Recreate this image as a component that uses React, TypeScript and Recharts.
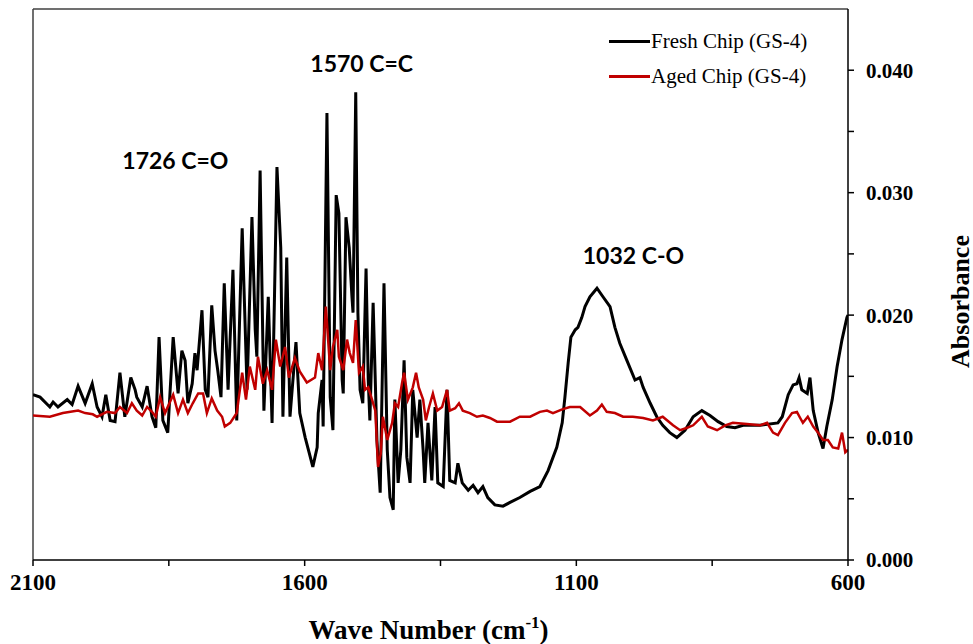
import { LineChart, Line, XAxis, YAxis, ReferenceLine, ReferenceDot } from "recharts";

// Fresh chip spectrum (wavenumber cm-1 -> absorbance)
const freshWavenumber = [
  2100, 2087, 2069, 2063, 2054, 2037, 2028, 2017, 2004, 1991, 1982, 1973, 1966, 1958, 1949, 1940, 1931, 1920, 1912, 1909,
  1899, 1890, 1881, 1874, 1868, 1861, 1852, 1842, 1833, 1826, 1820, 1815, 1807, 1802, 1798, 1789, 1783, 1778, 1771, 1765,
  1760, 1754, 1748, 1741, 1732, 1725, 1715, 1706, 1697, 1691, 1688, 1682, 1675, 1667, 1660, 1651, 1644, 1640, 1633, 1627,
  1616, 1609, 1599, 1592, 1585, 1577, 1575, 1568, 1566, 1559, 1553, 1548, 1542, 1537, 1531, 1529, 1524, 1518, 1513, 1511,
  1506, 1502, 1498, 1493, 1487, 1483, 1480, 1474, 1467, 1461, 1454, 1448, 1443, 1437, 1434, 1428, 1423, 1417, 1412, 1406,
  1401, 1393, 1388, 1382, 1379, 1373, 1366, 1360, 1355, 1345, 1338, 1333, 1323, 1318, 1310, 1299, 1290, 1281, 1272, 1263,
  1250, 1235, 1222, 1204, 1185, 1167, 1152, 1136, 1126, 1121, 1115, 1110, 1102, 1097, 1090, 1084, 1075, 1062, 1051, 1038,
  1029, 1020, 1007, 992, 983, 977, 964, 952, 941, 928, 915, 900, 885, 869, 854, 839, 823, 808, 793, 762,
  729, 721, 710, 701, 694, 690, 685, 675, 670, 664, 655, 646, 639, 629, 620, 611, 602, 600,
];
const freshAbsorbance = [
  0.0135, 0.0133, 0.0125, 0.0129, 0.0125, 0.0131, 0.0127, 0.0142, 0.0128, 0.0144, 0.0125, 0.0117, 0.0135, 0.0114, 0.0113, 0.0153, 0.0117, 0.0149, 0.0139, 0.0133,
  0.0125, 0.0142, 0.0117, 0.0108, 0.0182, 0.0114, 0.0104, 0.0182, 0.0136, 0.0171, 0.0163, 0.0128, 0.0144, 0.0169, 0.0155, 0.0204, 0.0139, 0.0133, 0.0208, 0.0171,
  0.0155, 0.0133, 0.0226, 0.0139, 0.0237, 0.0114, 0.0271, 0.0139, 0.0280, 0.0188, 0.0166, 0.0318, 0.0122, 0.0215, 0.0112, 0.0321, 0.0255, 0.0117, 0.0247, 0.0117,
  0.0178, 0.0120, 0.0100, 0.0088, 0.0076, 0.0092, 0.0120, 0.0147, 0.0109, 0.0365, 0.0133, 0.0106, 0.0298, 0.0283, 0.0147, 0.0136, 0.0280, 0.0255, 0.0215, 0.0202,
  0.0382, 0.0202, 0.0139, 0.0128, 0.0238, 0.0147, 0.0114, 0.0210, 0.0098, 0.0055, 0.0226, 0.0090, 0.0051, 0.0041, 0.0131, 0.0063, 0.0090, 0.0163, 0.0084, 0.0063,
  0.0139, 0.0100, 0.0131, 0.0090, 0.0063, 0.0112, 0.0065, 0.0125, 0.0063, 0.0060, 0.0139, 0.0065, 0.0063, 0.0079, 0.0063, 0.0057, 0.0061, 0.0055, 0.0060, 0.0051,
  0.0045, 0.0044, 0.0047, 0.0051, 0.0056, 0.0060, 0.0073, 0.0092, 0.0112, 0.0133, 0.0161, 0.0182, 0.0188, 0.0190, 0.0198, 0.0207, 0.0215, 0.0222, 0.0215, 0.0207,
  0.0190, 0.0177, 0.0163, 0.0147, 0.0149, 0.0141, 0.0128, 0.0117, 0.0110, 0.0104, 0.0100, 0.0106, 0.0117, 0.0122, 0.0118, 0.0113, 0.0109, 0.0108, 0.0110, 0.0110,
  0.0112, 0.0117, 0.0135, 0.0143, 0.0144, 0.0149, 0.0139, 0.0136, 0.0149, 0.0122, 0.0104, 0.0091, 0.0109, 0.0131, 0.0158, 0.0180, 0.0198, 0.0200,
];

// Aged chip spectrum
const agedWavenumber = [
  2100, 2069, 2045, 2017, 2004, 1990, 1982, 1964, 1949, 1940, 1927, 1918, 1909, 1899, 1890, 1881, 1874, 1866, 1857, 1842,
  1833, 1824, 1815, 1806, 1796, 1787, 1780, 1771, 1761, 1752, 1747, 1737, 1725, 1715, 1708, 1701, 1691, 1686, 1677, 1669,
  1660, 1653, 1645, 1636, 1629, 1618, 1609, 1596, 1581, 1575, 1568, 1561, 1553, 1548, 1540, 1537, 1529, 1522, 1517, 1511,
  1506, 1500, 1493, 1489, 1483, 1476, 1470, 1465, 1460, 1456, 1448, 1439, 1434, 1428, 1421, 1417, 1410, 1401, 1395, 1390,
  1382, 1377, 1371, 1364, 1356, 1347, 1338, 1333, 1323, 1316, 1309, 1296, 1283, 1272, 1259, 1246, 1222, 1204, 1185, 1167,
  1154, 1143, 1126, 1112, 1093, 1075, 1062, 1053, 1044, 1029, 1014, 996, 977, 959, 941, 922, 909, 896, 885, 869,
  858, 841, 826, 812, 786, 762, 749, 738, 729, 716, 703, 694, 688, 683, 674, 664, 655, 646, 637, 628,
  618, 611, 605, 600,
];
const agedAbsorbance = [
  0.0118, 0.0117, 0.0120, 0.0122, 0.0120, 0.0119, 0.0117, 0.0121, 0.0120, 0.0125, 0.0120, 0.0128, 0.0122, 0.0118, 0.0125, 0.0121, 0.0117, 0.0133, 0.0120, 0.0135,
  0.0120, 0.0131, 0.0120, 0.0128, 0.0136, 0.0136, 0.0120, 0.0132, 0.0122, 0.0117, 0.0109, 0.0112, 0.0120, 0.0153, 0.0131, 0.0158, 0.0139, 0.0166, 0.0144, 0.0155,
  0.0139, 0.0180, 0.0158, 0.0174, 0.0149, 0.0165, 0.0154, 0.0145, 0.0149, 0.0169, 0.0155, 0.0207, 0.0155, 0.0174, 0.0188, 0.0166, 0.0155, 0.0180, 0.0169, 0.0161,
  0.0196, 0.0153, 0.0158, 0.0139, 0.0141, 0.0131, 0.0122, 0.0076, 0.0087, 0.0117, 0.0098, 0.0112, 0.0128, 0.0125, 0.0144, 0.0153, 0.0131, 0.0141, 0.0153, 0.0141,
  0.0131, 0.0114, 0.0125, 0.0136, 0.0122, 0.0125, 0.0139, 0.0122, 0.0124, 0.0128, 0.0122, 0.0120, 0.0117, 0.0118, 0.0116, 0.0113, 0.0113, 0.0117, 0.0117, 0.0121,
  0.0122, 0.0120, 0.0123, 0.0125, 0.0125, 0.0118, 0.0122, 0.0127, 0.0121, 0.0120, 0.0117, 0.0117, 0.0116, 0.0114, 0.0117, 0.0110, 0.0106, 0.0108, 0.0110, 0.0117,
  0.0109, 0.0106, 0.0110, 0.0112, 0.0111, 0.0110, 0.0112, 0.0104, 0.0102, 0.0112, 0.0120, 0.0121, 0.0116, 0.0112, 0.0117, 0.0109, 0.0104, 0.0098, 0.0098, 0.0092,
  0.0091, 0.0104, 0.0088, 0.0090,
];

const xTicks = [2100, 1850, 1600, 1350, 1100, 850, 600];
const xTickLabels = [2100, 1600, 1100, 600];
const yTicks = [0, 0.005, 0.01, 0.015, 0.02, 0.025, 0.03, 0.035, 0.04];
const yTickLabels = [0, 0.01, 0.02, 0.03, 0.04];

const annotations = [
  { wn: 1838, abs: 0.0327, text: "1726 C=O" },
  { wn: 1495, abs: 0.0406, text: "1570 C=C" },
  { wn: 995, abs: 0.0249, text: "1032 C-O" },
];

const seriesNames = ["Fresh Chip (GS-4)", "Aged Chip (GS-4)"];
const seriesColors = ["#000000", "#C00000"];

const freshData = freshWavenumber.map((wn, i) => ({ wn, abs: freshAbsorbance[i] }));
const agedData = agedWavenumber.map((wn, i) => ({ wn, abs: agedAbsorbance[i] }));

const serif = '"Liberation Serif", "Times New Roman", serif';
const sans = 'Lato, "Open Sans", sans-serif';

const App = () => {
  return (
    <div style={{ position: "absolute", left: 0, top: 0, width: 973, height: 644, background: "#fff" }}>
      <LineChart width={973} height={644} margin={{ top: 9, right: 45, left: 33, bottom: 0 }}>
        <XAxis
          dataKey="wn"
          type="number"
          domain={[600, 2100]}
          reversed
          ticks={xTicks}
          allowDataOverflow
          height={84}
          tickSize={6}
          tickMargin={8}
          stroke="#000"
          axisLine={{ stroke: "#000", strokeWidth: 1.5 }}
          tickLine={{ stroke: "#000", strokeWidth: 1.5 }}
          tick={{ fill: "#000", fontSize: 23, fontWeight: 700, fontFamily: serif }}
          tickFormatter={(v) => (xTickLabels.includes(v) ? String(v) : "")}
          label={{
            content: (props: any) => {
              const vb = props.viewBox || { x: 33, y: 560, width: 815 };
              return (
                <text x={vb.x + vb.width / 2 - 12} y={vb.y + 79} textAnchor="middle" fontFamily={serif} fontWeight={700} fontSize={27} fill="#000">
                  Wave Number (cm
                  <tspan dy={-11} fontSize={17}>-1</tspan>
                  <tspan dy={11}>)</tspan>
                </text>
              );
            },
          }}
        />
        <YAxis
          dataKey="abs"
          type="number"
          orientation="right"
          domain={[0, 0.045]}
          ticks={yTicks}
          allowDataOverflow
          width={80}
          tickSize={6}
          tickMargin={12}
          axisLine={{ stroke: "#000", strokeWidth: 1.5 }}
          tickLine={{ stroke: "#000", strokeWidth: 1.5 }}
          tick={{ fill: "#000", fontSize: 21, fontWeight: 700, fontFamily: serif }}
          tickFormatter={(v) => (yTickLabels.some((t) => Math.abs(t - v) < 1e-9) ? v.toFixed(3) : "")}
          label={{
            content: (props: any) => {
              const vb = props.viewBox || { x: 848, y: 9, width: 80, height: 551 };
              const cx = vb.x + 112;
              const cy = vb.y + vb.height / 2 + 17;
              return (
                <text x={cx} y={cy} transform={`rotate(-90 ${cx} ${cy})`} textAnchor="middle" dominantBaseline="central" fontFamily={serif} fontWeight={700} fontSize={26} fill="#000">
                  Absorbance
                </text>
              );
            },
          }}
        />
        <ReferenceLine x={2100} stroke="#404040" strokeWidth={1.5} />
        <ReferenceLine y={0.045} stroke="#404040" strokeWidth={1.5} />
        <Line data={freshData} dataKey="abs" type="linear" stroke={seriesColors[0]} strokeWidth={3} dot={false} isAnimationActive={false} />
        <Line data={agedData} dataKey="abs" type="linear" stroke={seriesColors[1]} strokeWidth={2.5} dot={false} isAnimationActive={false} />
        {annotations.map((a) => (
          <ReferenceDot
            key={a.text}
            x={a.wn}
            y={a.abs}
            r={1}
            fill="none"
            stroke="none"
            label={{
              content: (props: any) => {
                const vb = props.viewBox || { x: 0, y: 0, width: 0, height: 0 };
                return (
                  <text x={vb.x + vb.width / 2} y={vb.y + vb.height / 2} textAnchor="middle" dominantBaseline="central" fontFamily={sans} fontWeight={700} fontSize={23} fill="#000">
                    {a.text}
                  </text>
                );
              },
            }}
          />
        ))}
      </LineChart>
      {/* legend, inside the plot at the top right */}
      <div style={{ position: "absolute", left: 609, top: 24, fontFamily: serif, fontSize: 21, color: "#000" }}>
        {seriesNames.map((name, i) => (
          <div key={name} style={{ display: "flex", alignItems: "center", height: 35 }}>
            <div style={{ width: 41, height: 3, background: seriesColors[i], marginRight: 1 }} />
            <span>{name}</span>
          </div>
        ))}
      </div>
    </div>
  );
};

export default App;
